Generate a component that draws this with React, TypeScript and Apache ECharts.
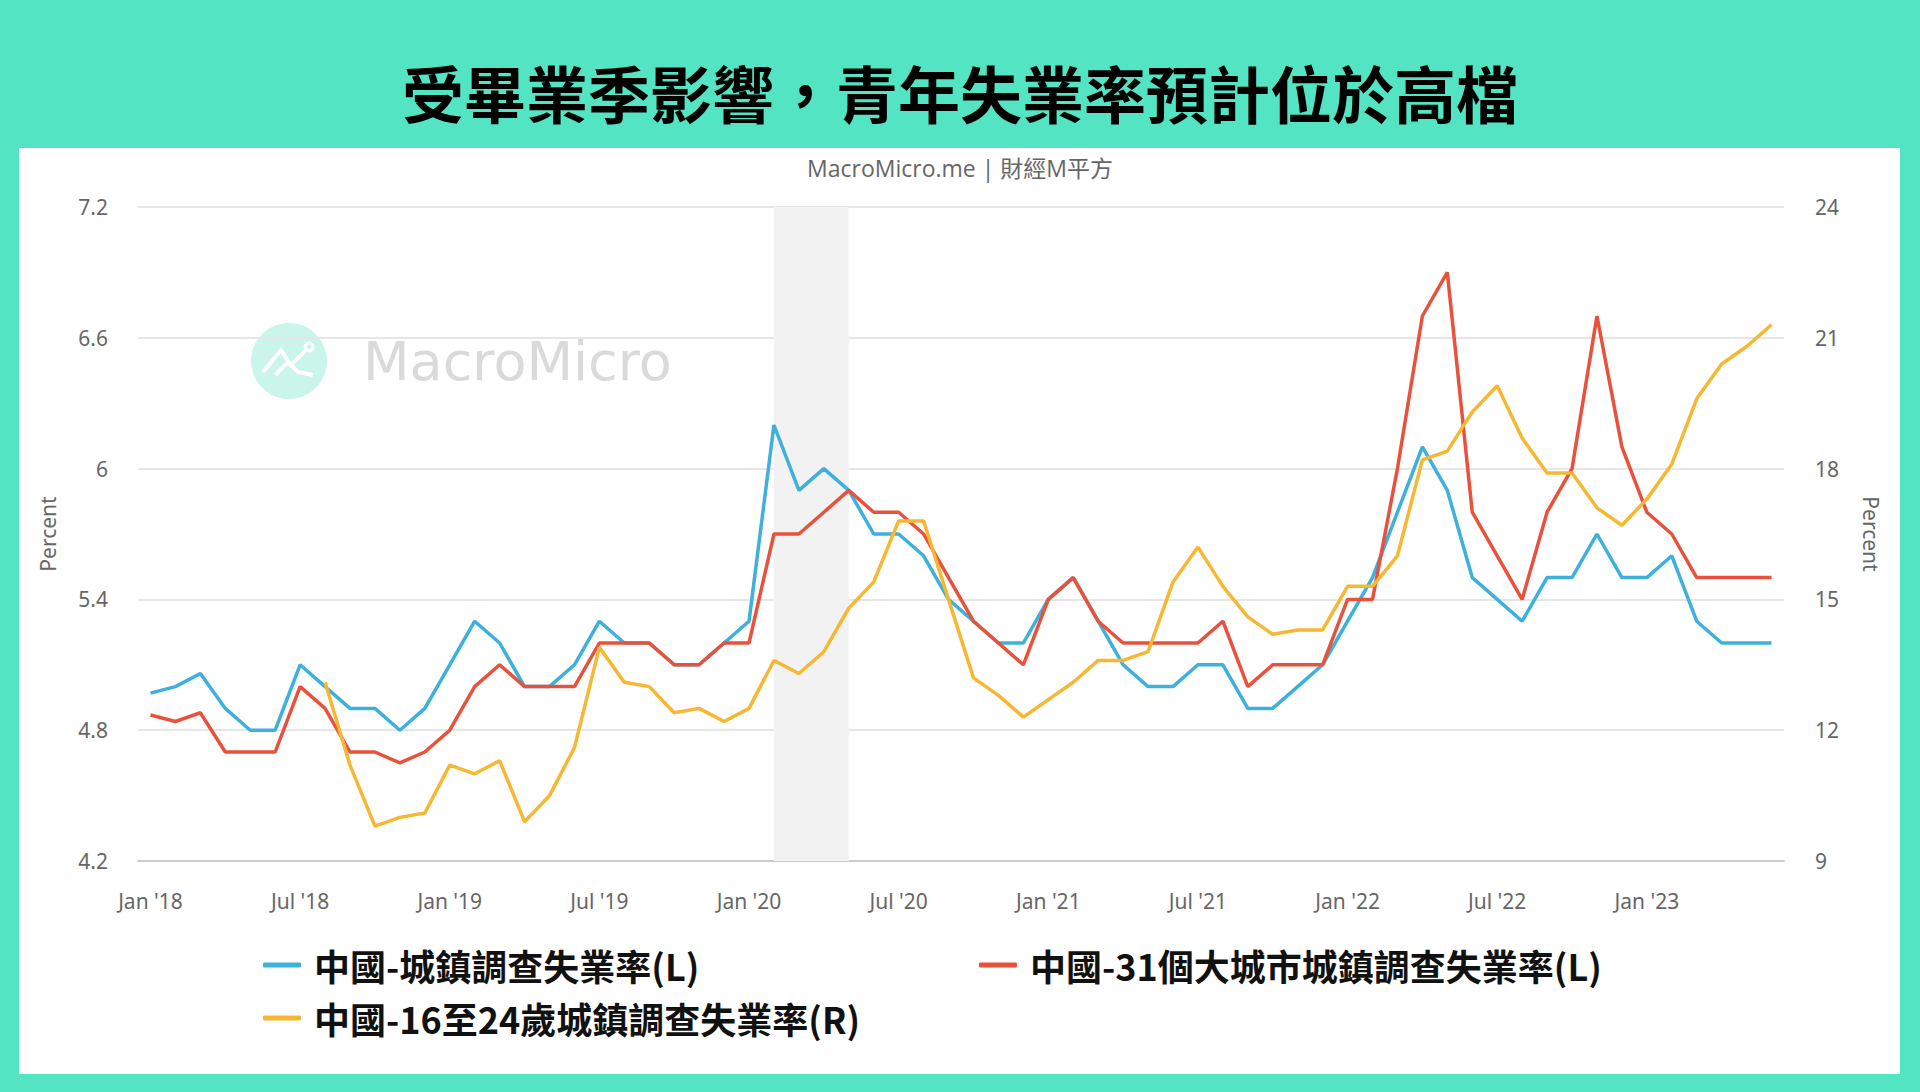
import React, { useEffect, useRef } from 'react';
import * as echarts from 'echarts';

const months: string[] = [
  '2018-01', '2018-02', '2018-03', '2018-04', '2018-05', '2018-06', '2018-07', '2018-08', '2018-09', '2018-10', '2018-11', '2018-12',
  '2019-01', '2019-02', '2019-03', '2019-04', '2019-05', '2019-06', '2019-07', '2019-08', '2019-09', '2019-10', '2019-11', '2019-12',
  '2020-01', '2020-02', '2020-03', '2020-04', '2020-05', '2020-06', '2020-07', '2020-08', '2020-09', '2020-10', '2020-11', '2020-12',
  '2021-01', '2021-02', '2021-03', '2021-04', '2021-05', '2021-06', '2021-07', '2021-08', '2021-09', '2021-10', '2021-11', '2021-12',
  '2022-01', '2022-02', '2022-03', '2022-04', '2022-05', '2022-06', '2022-07', '2022-08', '2022-09', '2022-10', '2022-11', '2022-12',
  '2023-01', '2023-02', '2023-03', '2023-04', '2023-05', '2023-06',
];

const monthNames = ['Jan', 'Feb', 'Mar', 'Apr', 'May', 'Jun', 'Jul', 'Aug', 'Sep', 'Oct', 'Nov', 'Dec'];

// 中國-城鎮調查失業率 (left axis)
const urbanRate: number[] = [
  4.97, 5.0, 5.06, 4.9, 4.8, 4.8, 5.1, 5.0, 4.9, 4.9, 4.8, 4.9,
  5.1, 5.3, 5.2, 5.0, 5.0, 5.1, 5.3, 5.2, 5.2, 5.1, 5.1, 5.2,
  5.3, 6.2, 5.9, 6.0, 5.9, 5.7, 5.7, 5.6, 5.4, 5.3, 5.2, 5.2,
  5.4, 5.5, 5.3, 5.1, 5.0, 5.0, 5.1, 5.1, 4.9, 4.9, 5.0, 5.1,
  5.3, 5.5, 5.8, 6.1, 5.9, 5.5, 5.4, 5.3, 5.5, 5.5, 5.7, 5.5,
  5.5, 5.6, 5.3, 5.2, 5.2, 5.2,
];

// 中國-31個大城市城鎮調查失業率 (left axis)
const bigCityRate: number[] = [
  4.87, 4.84, 4.88, 4.7, 4.7, 4.7, 5.0, 4.9, 4.7, 4.7, 4.65, 4.7,
  4.8, 5.0, 5.1, 5.0, 5.0, 5.0, 5.2, 5.2, 5.2, 5.1, 5.1, 5.2,
  5.2, 5.7, 5.7, 5.8, 5.9, 5.8, 5.8, 5.7, 5.5, 5.3, 5.2, 5.1,
  5.4, 5.5, 5.3, 5.2, 5.2, 5.2, 5.2, 5.3, 5.0, 5.1, 5.1, 5.1,
  5.4, 5.4, 6.0, 6.7, 6.9, 5.8, 5.6, 5.4, 5.8, 6.0, 6.7, 6.1,
  5.8, 5.7, 5.5, 5.5, 5.5, 5.5,
];

// 中國-16至24歲城鎮調查失業率 (right axis)
const youthRate: (number | null)[] = [
  null, null, null, null, null, null, null, 13.1, 11.2, 9.8, 10.0, 10.1,
  11.2, 11.0, 11.3, 9.9, 10.5, 11.6, 13.9, 13.1, 13.0, 12.4, 12.5, 12.2,
  12.5, 13.6, 13.3, 13.8, 14.8, 15.4, 16.8, 16.8, 15.0, 13.2, 12.8, 12.3,
  12.7, 13.1, 13.6, 13.6, 13.8, 15.4, 16.2, 15.3, 14.6, 14.2, 14.3, 14.3,
  15.3, 15.3, 16.0, 18.2, 18.4, 19.3, 19.9, 18.7, 17.9, 17.9, 17.1, 16.7,
  17.3, 18.1, 19.6, 20.4, 20.8, 21.3,
];

const seriesNames = [
  '中國-城鎮調查失業率(L)',
  '中國-31個大城市城鎮調查失業率(L)',
  '中國-16至24歲城鎮調查失業率(R)',
];
const seriesColors = ['#3eb0dc', '#e8523d', '#f7b733'];

const shadeRange = ['2020-02', '2020-05'];

const CJK = '"Noto Sans CJK TC", "Noto Sans", sans-serif';
const LATIN = '"Noto Sans", sans-serif';

const App: React.FC = () => {
  const chartRef = useRef<HTMLDivElement>(null);

  useEffect(() => {
    if (!chartRef.current) return;
    const myChart = echarts.init(chartRef.current, null, { renderer: 'svg' });

    const legendText = {
      color: '#111',
      fontSize: 36,
      lineHeight: 40,
      fontWeight: 'bold' as const,
      fontFamily: CJK,
      padding: [0, 0, 0, 8],
    };
    const legendBase = { itemWidth: 38, itemHeight: 5, icon: 'roundRect', padding: 0, textStyle: legendText };

    const option: echarts.EChartsOption = {
      animation: false,
      title: [
        {
          text: '受畢業季影響，青年失業率預計位於高檔',
          left: 'center',
          top: 56,
          textStyle: { fontSize: 62, fontWeight: 'bold', color: '#000', fontFamily: CJK },
        },
        {
          text: 'MacroMicro.me | 財經M平方',
          left: 'center',
          top: 151,
          textStyle: { fontSize: 23, fontWeight: 'normal', color: '#666', fontFamily: '"Open Sans", "Noto Sans CJK TC", sans-serif' },
        },
      ],
      legend: [
        { ...legendBase, data: [seriesNames[0]], left: 263, top: 945 },
        { ...legendBase, data: [seriesNames[1]], left: 979, top: 945 },
        { ...legendBase, data: [seriesNames[2]], left: 263, top: 998 },
      ],
      graphic: [
        {
          type: 'group',
          left: 251,
          top: 323,
          children: [
            { type: 'circle', shape: { cx: 38, cy: 38, r: 38 }, style: { fill: '#c9f5eb' } },
            {
              type: 'polyline',
              shape: { points: [[12, 49], [30, 27], [40, 42], [50, 32], [57, 25]] },
              style: { stroke: '#fff', lineWidth: 4, fill: 'none' },
            },
            {
              type: 'polyline',
              shape: { points: [[24, 52], [37, 39], [47, 49], [62, 52]] },
              style: { stroke: '#fff', lineWidth: 4, fill: 'none' },
            },
            { type: 'circle', shape: { cx: 58, cy: 24, r: 4 }, style: { stroke: '#fff', lineWidth: 3, fill: 'none' } },
          ],
        },
        {
          type: 'text',
          left: 363,
          top: 334,
          style: { text: 'MacroMicro', fontSize: 54, fill: '#dadada', fontFamily: '"DejaVu Sans", sans-serif' },
        },
      ],
      grid: { left: 138, right: 136, top: 207, bottom: 231 },
      xAxis: {
        type: 'category',
        data: months,
        boundaryGap: true,
        axisLine: { lineStyle: { color: '#ccc', width: 2 } },
        axisTick: { alignWithLabel: true, interval: 5, length: 16, lineStyle: { color: '#ccc', width: 2 } },
        axisLabel: {
          interval: 5,
          margin: 29,
          fontSize: 21,
          color: '#666',
          fontFamily: LATIN,
          formatter: (v: string) => {
            const [y, m] = v.split('-');
            return `${monthNames[Number(m) - 1]} '${y.slice(2)}`;
          },
        },
        splitLine: { show: false },
      },
      yAxis: [
        {
          type: 'value',
          min: 4.2,
          max: 7.2,
          interval: 0.6,
          position: 'left',
          name: 'Percent',
          nameLocation: 'middle',
          nameGap: 80,
          nameTextStyle: { fontSize: 21, color: '#666', fontFamily: LATIN },
          axisLabel: {
            margin: 30,
            fontSize: 21,
            color: '#666',
            fontFamily: LATIN,
            formatter: (v: number) => String(Math.round(v * 10) / 10),
          },
          axisLine: { show: false },
          axisTick: { show: false },
          splitLine: { lineStyle: { color: '#e6e6e6', width: 2 } },
        },
        {
          type: 'value',
          min: 9,
          max: 24,
          interval: 3,
          position: 'right',
          name: 'Percent',
          nameLocation: 'middle',
          nameGap: 76,
          nameRotate: -90,
          nameTextStyle: { fontSize: 21, color: '#666', fontFamily: LATIN },
          axisLabel: { margin: 31, fontSize: 21, color: '#666', fontFamily: LATIN },
          axisLine: { show: false },
          axisTick: { show: false },
          splitLine: { show: false },
        },
      ],
      series: [
        {
          name: seriesNames[0],
          type: 'line',
          yAxisIndex: 0,
          data: urbanRate,
          showSymbol: false,
          color: seriesColors[0],
          lineStyle: { width: 3.5, color: seriesColors[0] },
          z: 3,
          markArea: {
            silent: true,
            itemStyle: { color: '#f2f2f2' },
            data: [[{ xAxis: shadeRange[0] }, { xAxis: shadeRange[1] }]],
          },
        },
        {
          name: seriesNames[1],
          type: 'line',
          yAxisIndex: 0,
          data: bigCityRate,
          showSymbol: false,
          color: seriesColors[1],
          lineStyle: { width: 3.5, color: seriesColors[1] },
          z: 4,
        },
        {
          name: seriesNames[2],
          type: 'line',
          yAxisIndex: 1,
          data: youthRate,
          showSymbol: false,
          color: seriesColors[2],
          lineStyle: { width: 3.5, color: seriesColors[2] },
          z: 5,
        },
      ],
    };

    myChart.setOption(option);

    const handleResize = () => {
      myChart.resize();
    };
    window.addEventListener('resize', handleResize);

    return () => {
      window.removeEventListener('resize', handleResize);
      myChart.dispose();
    };
  }, []);

  return (
    <div style={{ position: 'fixed', left: 0, top: 0, width: 1920, height: 1092, background: '#53e4c3' }}>
      <div style={{ position: 'absolute', left: 19, top: 148, width: 1881, height: 926, background: '#fff' }} />
      <div ref={chartRef} style={{ position: 'absolute', left: 0, top: 0, width: 1920, height: 1092 }} />
    </div>
  );
};

export default App;
